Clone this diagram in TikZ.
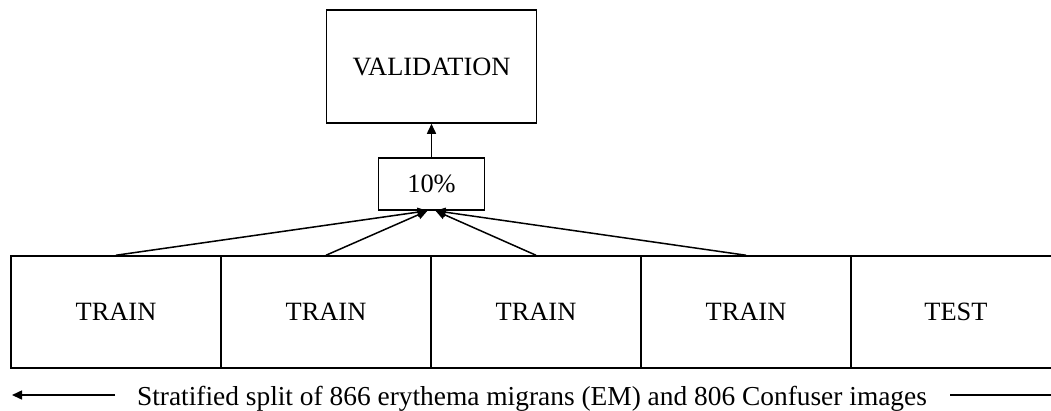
\documentclass[tikz,border=0pt]{standalone}
\usepackage{fontspec}
\setmainfont{Liberation Serif}
\usetikzlibrary{arrows.meta}
\begin{document}
\begin{tikzpicture}[x=1pt,y=-1pt,
  lw/.style={line width=1.5pt},
  lbl/.style={font=\fontsize{26.4}{30}\selectfont},
  box/.style={draw,lw,lbl,inner sep=0pt,minimum width=210pt,minimum height=112pt},
  arr/.style={lw,-{Triangle[length=10pt,width=9pt]}}]
\useasboundingbox (0,0) rectangle (1051,410);
\node[draw,lw,lbl,inner sep=0pt,minimum width=210pt,minimum height=113pt] (val) at (431.5,66.5) {VALIDATION};
\node[draw,lw,lbl,inner sep=0pt,minimum width=106pt,minimum height=52pt] (pct) at (431.5,184) {10\%};
\node[box] (t1) at (116,312) {TRAIN};
\node[box] (t2) at (326,312) {TRAIN};
\node[box] (t3) at (536,312) {TRAIN};
\node[box] (t4) at (746,312) {TRAIN};
\node[box] (test) at (956,312) {TEST};
\draw[arr] (pct.north) -- (val.south);
\draw[arr] (t1.north) -- ([xshift=-4pt]pct.south);
\draw[arr] (t2.north) -- ([xshift=-4pt]pct.south);
\draw[arr] (t3.north) -- ([xshift=4pt]pct.south);
\draw[arr] (t4.north) -- ([xshift=4pt]pct.south);
\node[font=\fontsize{27.4}{32}\selectfont,anchor=base,inner sep=0pt] (cap) at (532,405) {Stratified split of 866 erythema migrans (EM) and 806 Confuser images};
\coordinate (ls) at (115,395);
\coordinate (le) at (12,395);
\coordinate (rs) at (950,395);
\coordinate (re) at (1060,395);
\draw[arr] (ls) -- (le);
\draw[lw] (rs) -- (re);
\end{tikzpicture}
\end{document}
